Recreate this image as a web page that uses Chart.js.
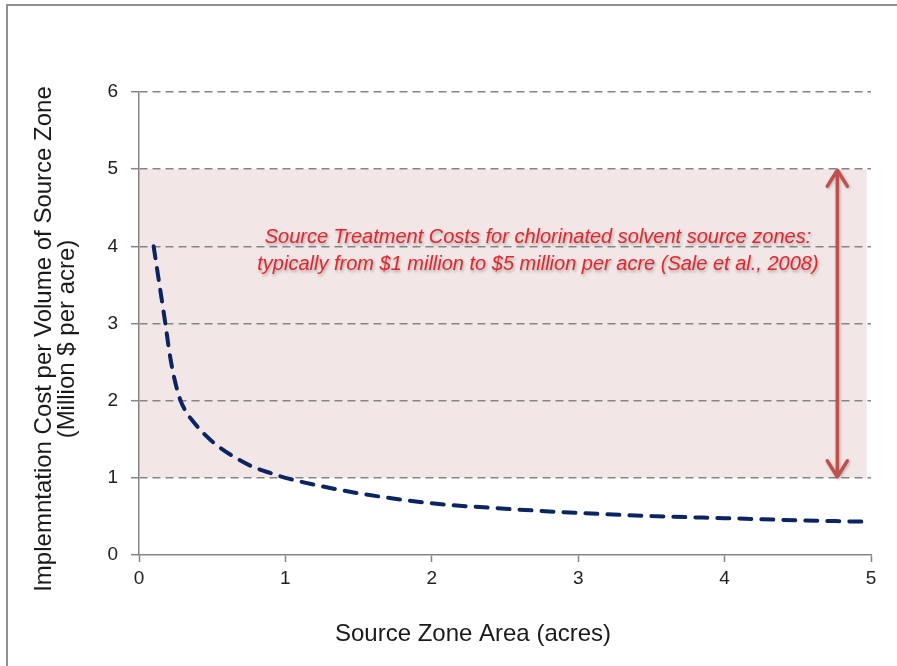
<!DOCTYPE html>
<html>
<head>
<meta charset="utf-8">
<script src="https://cdn.jsdelivr.net/npm/chart.js@4"></script>
<style>
html,body{margin:0;padding:0;background:#fff;}
#wrap{position:relative;width:897px;height:666px;}
</style>
</head>
<body>
<div id="wrap"><canvas id="c" width="897" height="666"></canvas></div>
<script>
// ---- data ----
const areaAcres   = [0.1, 0.14, 0.18, 0.21, 0.24, 0.28, 0.32, 0.37, 0.45, 0.54, 0.66, 0.78, 0.9, 1.0, 1.25, 1.5, 2.0, 2.5, 3.0, 3.5, 4.0, 4.5, 5.0];
const costPerAcre = [4.0, 3.5, 3.0, 2.6, 2.3, 2.02, 1.86, 1.73, 1.56, 1.41, 1.26, 1.14, 1.06, 1.0, 0.89, 0.80, 0.67, 0.60, 0.545, 0.505, 0.477, 0.45, 0.43];
const xTicks = [0, 1, 2, 3, 4, 5];
const yTicks = [0, 1, 2, 3, 4, 5, 6];
const rangeLow = 1;    // $1 million per acre
const rangeHigh = 5;   // $5 million per acre
const xTitle = 'Source Zone Area (acres)';
const yTitle = ['Implemntation Cost per Volume of Source Zone', '(Million $ per acre)'];
const noteLines = ['Source Treatment Costs for chlorinated solvent source zones:',
                   'typically from $1 million to $5 million per acre (Sale et al., 2008)'];

// ---- annotation placement (data units) ----
const bandEnd = 4.97;
const arrowX = 4.77;
const noteX = 2.725;
const noteY = [4.11, 3.77];

const FONT = '"Liberation Sans", Arial, sans-serif';
const GRID = '#858585';

const overlay = {
  id: 'overlay',
  beforeDraw(chart) {
    const {ctx, scales: {x, y}} = chart;
    ctx.save();
    // outer frame (left & top)
    ctx.strokeStyle = '#909090';
    ctx.lineWidth = 2;
    ctx.beginPath();
    ctx.moveTo(7, 666); ctx.lineTo(7, 5); ctx.lineTo(897, 5);
    ctx.stroke();
    // range band
    const x0 = x.getPixelForValue(0), x1 = x.getPixelForValue(bandEnd);
    const yT = y.getPixelForValue(rangeHigh), yB = y.getPixelForValue(rangeLow);
    ctx.fillStyle = '#f2e6e6';
    ctx.fillRect(x0, yT, x1 - x0, yB - yT);
    // axis titles
    ctx.fillStyle = '#1a1a1a';
    ctx.font = '24px ' + FONT;
    ctx.textAlign = 'center';
    ctx.textBaseline = 'middle';
    ctx.fillText(xTitle, 473, 634);
    ctx.translate(56, 339);
    ctx.rotate(-Math.PI / 2);
    ctx.fillText(yTitle[0], 0, -11.5);
    ctx.fillText(yTitle[1], 0, 11.5);
    ctx.restore();
  },
  afterDatasetsDraw(chart) {
    const {ctx, scales: {x, y}} = chart;
    ctx.save();
    // double arrow
    const ax = x.getPixelForValue(arrowX);
    const aT = y.getPixelForValue(rangeHigh), aB = y.getPixelForValue(rangeLow);
    ctx.strokeStyle = '#c0504d';
    ctx.lineWidth = 3.5;
    ctx.lineCap = 'round';
    ctx.lineJoin = 'round';
    ctx.shadowColor = 'rgba(0,0,0,0.25)';
    ctx.shadowBlur = 3;
    ctx.shadowOffsetX = 1;
    ctx.shadowOffsetY = 1;
    ctx.beginPath();
    ctx.moveTo(ax, aT + 1); ctx.lineTo(ax, aB - 1);
    ctx.moveTo(ax - 10, aT + 17); ctx.lineTo(ax, aT + 1); ctx.lineTo(ax + 10, aT + 17);
    ctx.moveTo(ax - 10, aB - 17); ctx.lineTo(ax, aB - 1); ctx.lineTo(ax + 10, aB - 17);
    ctx.stroke();
    // note text
    ctx.shadowColor = 'rgba(0,0,0,0.3)';
    ctx.shadowBlur = 3;
    ctx.shadowOffsetX = 1;
    ctx.shadowOffsetY = 2;
    ctx.fillStyle = '#e3262e';
    ctx.font = 'italic 20px ' + FONT;
    ctx.textAlign = 'center';
    ctx.textBaseline = 'middle';
    const nx = x.getPixelForValue(noteX);
    noteLines.forEach((t, i) => ctx.fillText(t, nx, y.getPixelForValue(noteY[i])));
    ctx.restore();
  }
};

new Chart(document.getElementById('c'), {
  type: 'scatter',
  data: {
    datasets: [{
      data: areaAcres.map((v, i) => ({x: v, y: costPerAcre[i]})),
      showLine: true,
      borderColor: '#0c2461',
      backgroundColor: '#0c2461',
      borderWidth: 4,
      borderDash: [12, 10],
      borderCapStyle: 'round',
      pointRadius: 0,
      cubicInterpolationMode: 'monotone',
      fill: false
    }]
  },
  options: {
    responsive: false,
    animation: false,
    events: [],
    devicePixelRatio: 1,
    layout: {padding: {left: 0, top: 92, right: 26, bottom: 0}},
    plugins: {legend: {display: false}, tooltip: {enabled: false}},
    scales: {
      x: {
        type: 'linear', min: 0, max: 5,
        afterBuildTicks: s => { s.ticks = xTicks.map(v => ({value: v})); },
        ticks: {font: {size: 19, family: FONT}, color: '#222', padding: 5, maxRotation: 0},
        grid: {drawOnChartArea: false, drawTicks: true, tickLength: 7, color: GRID, tickColor: GRID, tickWidth: 1.5},
        border: {color: GRID, width: 1.5},
        afterFit: s => { s.height = 111; s.paddingLeft = 0; s.paddingRight = 0; }
      },
      y: {
        type: 'linear', min: 0, max: 6,
        afterBuildTicks: s => { s.ticks = yTicks.map(v => ({value: v})); },
        ticks: {font: {size: 19, family: FONT}, color: '#222', padding: 13},
        grid: {
          color: c => (c.tick && c.tick.value === 0) ? 'rgba(0,0,0,0)' : GRID,
          tickColor: GRID, lineWidth: 1.4, tickWidth: 1.5, tickLength: 8, tickBorderDash: []
        },
        border: {color: GRID, width: 1.5, dash: [8, 5]},
        afterFit: s => { s.width = 139; s.paddingTop = 0; s.paddingBottom = 0; }
      }
    }
  },
  plugins: [overlay]
});
</script>
</body>
</html>
